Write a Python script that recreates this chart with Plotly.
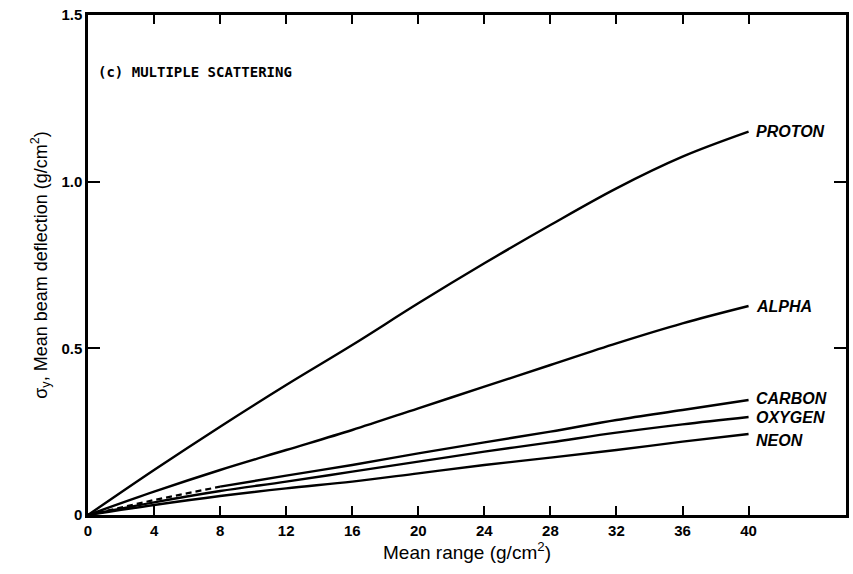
import plotly.graph_objects as go

# Data
mean_range = [0, 4, 8, 12, 16, 20, 24, 28, 32, 36, 40]
proton = [0, 0.135, 0.265, 0.39, 0.51, 0.635, 0.755, 0.87, 0.98, 1.075, 1.15]
alpha = [0, 0.07, 0.135, 0.195, 0.255, 0.32, 0.385, 0.45, 0.515, 0.575, 0.627]
carbon = [0, 0.045, 0.085, 0.118, 0.15, 0.185, 0.218, 0.25, 0.285, 0.315, 0.345]
oxygen = [0, 0.038, 0.072, 0.10, 0.13, 0.16, 0.19, 0.218, 0.247, 0.272, 0.294]
neon = [0, 0.03, 0.057, 0.08, 0.10, 0.125, 0.15, 0.172, 0.195, 0.22, 0.243]

series_names = ["PROTON", "ALPHA", "CARBON", "OXYGEN", "NEON"]
label_y = [1.15, 0.627, 0.35, 0.294, 0.225]

x_ticks = [0, 4, 8, 12, 16, 20, 24, 28, 32, 36, 40]
y_ticks = [0, 0.5, 1.0, 1.5]
y_tick_text = ["0", "0.5", "1.0", "1.5"]

fig = go.Figure()
line = dict(color="black", width=2.4, shape="spline")

for name, ys in zip(series_names, [proton, alpha, carbon, oxygen, neon]):
    if name == "CARBON":
        fig.add_trace(go.Scatter(x=mean_range[:3], y=ys[:3], mode="lines",
                                 line=dict(color="black", width=2.2, dash="6px,4px"),
                                 showlegend=False, hoverinfo="skip"))
        fig.add_trace(go.Scatter(x=mean_range[2:], y=ys[2:], mode="lines", line=line,
                                 showlegend=False, name=name))
    else:
        fig.add_trace(go.Scatter(x=mean_range, y=ys, mode="lines", line=line,
                                 showlegend=False, name=name))

for name, ly in zip(series_names, label_y):
    fig.add_annotation(x=40.35, y=ly, text="<i><b>" + name + "</b></i>", showarrow=False,
                       xanchor="left", yanchor="middle",
                       font=dict(family="Liberation Sans", size=16, color="black"))

fig.add_annotation(x=0.01, xref="paper", y=1.33, text="<b>(c) MULTIPLE SCATTERING</b>",
                   showarrow=False, xanchor="left", yanchor="middle",
                   font=dict(family="DejaVu Sans Mono", size=14, color="black"))

axis_font = dict(family="Liberation Sans", size=15, color="black", weight="bold")

fig.update_layout(
    width=853, height=574,
    margin=dict(l=88, r=4, t=15, b=59),
    paper_bgcolor="white", plot_bgcolor="white",
    xaxis=dict(range=[0, 45.9], tickvals=x_ticks, ticktext=[str(v) for v in x_ticks],
               ticks="inside", ticklen=9, tickwidth=2, tickcolor="black",
               showline=True, linewidth=2.5, linecolor="black", mirror="ticks",
               showgrid=False, zeroline=False, tickfont=axis_font,
               title=dict(text="Mean range (g/cm<sup>2</sup>)", standoff=6,
                          font=dict(family="Liberation Sans", size=19, color="black"))),
    yaxis=dict(range=[0, 1.5], tickvals=y_ticks, ticktext=y_tick_text,
               ticks="inside", ticklen=12, tickwidth=2, tickcolor="black",
               showline=True, linewidth=2.5, linecolor="black", mirror="ticks",
               showgrid=False, zeroline=False, tickfont=axis_font,
               title=dict(text="σ<sub>y</sub>, Mean beam deflection (g/cm<sup>2</sup>)", standoff=10,
                          font=dict(family="Liberation Sans", size=18, color="black"))),
)

fig.write_html("out.html")
